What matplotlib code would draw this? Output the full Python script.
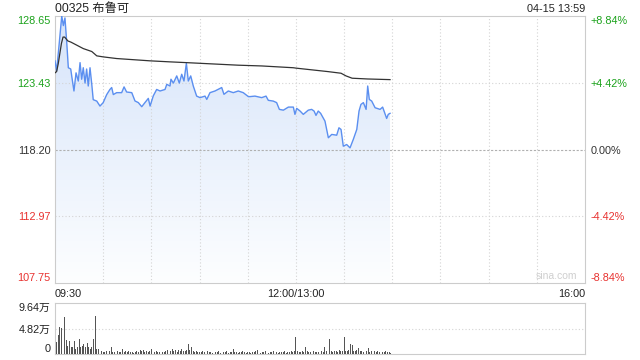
import numpy as np
import matplotlib
matplotlib.use('Agg')
import matplotlib.pyplot as plt
from matplotlib.colors import LinearSegmentedColormap

plt.rcParams['font.family'] = ['Liberation Sans', 'Noto Sans CJK SC', 'DejaVu Sans']

####################
# data
title = '00325 布鲁可'
stamp = '04-15 13:59'
prev_close = 118.20
price_ticks = [107.75, 112.97, 118.20, 123.43, 128.65]
pct_labels = ['-8.84%', '-4.42%', '0.00%', '+4.42%', '+8.84%']
tick_colors = ['#e8312f', '#e8312f', '#333333', '#1ba21b', '#1ba21b']
time_ticks = [0, 150, 330]
time_labels = ['09:30', '12:00/13:00', '16:00']
vol_ticks = [0, 4.82, 9.64]
vol_labels = ['0', '4.82万', '9.64万']

# minutes since 09:30 (lunch break removed) and price
price_min = [0, 1, 2.7, 4.2, 5.2, 6.2, 7.3, 8.3, 9.8, 10.4, 11.8, 13.1, 14.5, 15.6, 16.6,
             17.6, 18.7, 19.7, 20.7, 21.8, 22.9, 23.8, 26, 28, 30, 32.2, 34.2, 35.3, 36.3,
             38.4, 41.5, 43, 44.6, 47.8, 49.8, 51.9, 54, 56, 58.1, 59.2, 61.2, 63.3, 65.4,
             68.5, 69.6, 71.6, 72.2, 73.7, 75.8, 77.4, 78.9, 80.3, 81.8, 83, 84.5, 86.1,
             88.2, 90.3, 93.4, 94.5, 96.5, 99.6, 103.8, 105.2, 107.9, 111, 114.1, 117.2,
             120.4, 121.4, 124.5, 128.7, 131.4, 132.8, 135.9, 138, 139.7, 142.2, 145.3,
             148.4, 149.4, 150.5, 152.6, 154.6, 157.7, 159.8, 161.3, 162.5, 163.9, 165.4,
             168.1, 170.2, 172.3, 175.4, 176.8, 178.1, 179.5, 181.6, 183.7, 185.7, 187.9,
             189.3, 190.5, 192, 193.7, 194.7, 195.7, 197.2, 199.3, 202.4, 204, 206.5,
             207.5, 208.6]
price_val = [125.14, 124.35, 126.6, 128.65, 127.9, 128.5, 126.6, 124.6, 124.5, 123.96,
             122.78, 124.2, 123.56, 125.0, 123.7, 124.6, 123.4, 124.5, 123.17, 124.6,
             123.3, 122.1, 121.99, 121.6, 121.87, 122.5, 122.9, 123.05, 122.5, 122.65,
             122.65, 123.1, 122.7, 122.65, 122.0, 121.87, 121.55, 121.87, 122.2, 121.6,
             122.4, 122.9, 122.78, 122.9, 123.3, 123.17, 123.7, 123.4, 123.96, 123.4,
             124.09, 123.56, 124.95, 123.56, 123.96, 123.17, 122.38, 122.26, 122.38,
             122.12, 122.65, 122.78, 123.05, 122.52, 122.78, 122.65, 122.78, 122.65,
             122.34, 122.34, 122.38, 122.26, 122.38, 122.05, 121.99, 121.87, 121.34,
             121.28, 121.52, 121.52, 120.95, 121.42, 121.21, 120.95, 121.28, 121.34,
             121.21, 120.87, 121.21, 121.03, 120.42, 119.12, 119.38, 119.32, 119.9,
             119.77, 118.46, 118.59, 118.33, 118.98, 119.77, 121.21, 121.73, 121.87,
             121.34, 123.17, 122.12, 121.99, 121.47, 121.34, 121.52, 120.63, 120.95,
             121.03]

# average price line
avg_min = [0, 1, 2, 3, 4, 5, 6, 8, 10, 13.5, 17.6, 22.9, 24, 26, 30, 38.4, 59.2, 71.6,
           81.8, 114, 128.7, 148.4, 150, 169.8, 178.1, 181.2, 185, 194.7, 208.6]
avg_val = [124.2, 124.3, 124.9, 125.7, 126.5, 127.0, 127.0, 126.7, 126.6, 126.37, 126.1,
           125.87, 125.75, 125.53, 125.45, 125.32, 125.14, 125.06, 125.0, 124.8, 124.74,
           124.6, 124.57, 124.3, 124.17, 123.96, 123.78, 123.72, 123.67]

# volume per minute (万)
vol = [4.9, 2.2, 3.5, 5.1, 5.0, 9.64, 7.0, 2.7, 1.6, 2.5,
       1.3, 1.4, 2.5, 0.9, 1.3, 2.8, 1.3, 1.6, 1.9, 1.3,
       2.0, 1.3, 0.9, 1.4, 2.8, 7.1, 1.0, 0.9, 0.4, 0.5,
       0.3, 0.4, 0.6, 0.3, 0.5, 1.4, 0.4, 0.3, 0.2, 0.5,
       0.4, 0.3, 0.95, 0.4, 0.6, 0.3, 0.5, 0.4, 0.3, 0.2,
       0.4, 0.6, 0.3, 0.7, 0.5, 0.8, 0.4, 0.6, 0.3, 0.5,
       0.95, 0.4, 0.3, 0.5, 0.4, 0.3, 0.6, 0.4, 0.3, 0.5,
       0.7, 0.4, 0.6, 0.9, 0.5, 0.8, 0.4, 0.7, 0.5, 0.9,
       0.6, 0.5, 0.8, 1.9, 0.7, 1.27, 0.5, 0.4, 0.6, 0.3,
       0.4, 0.3, 0.5, 0.4, 1.4, 0.5, 0.3, 0.4, 0.2, 0.3,
       0.4, 0.3, 0.5, 0.2, 0.4, 0.3, 0.3, 0.5, 0.2, 0.4,
       0.3, 0.95, 0.4, 0.3, 0.2, 0.4, 0.3, 0.5, 0.3, 0.2,
       0.4, 0.3, 0.2, 0.4, 0.3, 0.5, 0.76, 0.3, 0.2, 0.4,
       0.3, 0.5, 0.3, 0.2, 0.4, 0.3, 0.5, 0.3, 0.4, 0.2,
       0.3, 0.4, 0.3, 0.5, 0.2, 0.4, 0.3, 0.5, 0.4, 0.6,
       3.17, 0.5, 0.4, 0.3, 0.6, 0.4, 1.4, 0.5, 0.3, 0.4,
       0.3, 0.5, 0.4, 0.3, 0.4, 0.3, 0.5, 0.4, 1.4, 0.5,
       0.6, 2.85, 0.5, 0.4, 0.6, 0.5, 0.4, 0.7, 0.5, 0.6,
       3.3, 0.6, 0.5, 0.8, 1.9, 1.7, 0.6, 0.5, 0.7, 1.14,
       0.5, 0.6, 0.4, 0.7, 0.5, 1.14, 0.4, 0.6, 0.3, 0.5,
       0.4, 0.6, 0.3, 0.5, 0.4, 0.3, 0.5, 0.3, 0.4, 0.2]
####################

grid_c = '#d4d4d4'
fs = 7.8

fig = plt.figure(figsize=(6.4, 3.6), dpi=100)
ax = fig.add_axes([55/640, 1-283/360, 530/640, 267/360])

# gradient area under the price line
cmap = LinearSegmentedColormap.from_list('fill', ['#fdfeff', '#d6e4fa'])
grad = np.linspace(0, 1, 256).reshape(-1, 1)
im = ax.imshow(grad, cmap=cmap, origin='lower', aspect='auto',
               extent=[0, 330, price_ticks[0], price_ticks[-1]], zorder=1)
area = ax.fill_between(price_min, price_val, price_ticks[0], color='none', lw=0)
im.set_clip_path(area.get_paths()[0], transform=ax.transData)

for m in range(30, 330, 30):
    ax.axvline(m, color=grid_c, lw=0.8, ls=(0, (1, 2)), zorder=2)
for p in [price_ticks[1], price_ticks[3]]:
    ax.axhline(p, color=grid_c, lw=0.8, ls=(0, (1, 2)), zorder=2)
ax.axhline(prev_close, color='#b0b0b0', lw=0.8, ls=(0, (2, 1.5)), zorder=2)

ax.plot(price_min, price_val, color='#5b8ff0', lw=1.0, zorder=4)
ax.plot(avg_min, avg_val, color='#333333', lw=0.9, zorder=4)

ax.set_xlim(0, 330)
ax.set_ylim(price_ticks[0], price_ticks[-1])
for s in ax.spines.values():
    s.set_color('#cccccc')

ax.set_yticks(price_ticks)
ax.set_yticklabels(['%.2f' % p for p in price_ticks])
ax.tick_params(axis='y', length=0, pad=3, labelsize=fs)
ylab = ax.get_yticklabels()
for lbl, c in zip(ylab, tick_colors):
    lbl.set_color(c)
ylab[0].set_va('bottom')
ylab[-1].set_va('top')

ax.set_xticks(time_ticks)
ax.set_xticklabels(time_labels)
ax.tick_params(axis='x', length=0, pad=4, labelsize=fs, labelcolor='#222222')
xlab = ax.get_xticklabels()
xlab[0].set_ha('left')
xlab[-1].set_ha('right')

ax2 = ax.twinx()
ax2.set_ylim(price_ticks[0], price_ticks[-1])
ax2.set_yticks(price_ticks)
ax2.set_yticklabels(pct_labels)
ax2.tick_params(axis='y', length=0, pad=4, labelsize=fs)
rlab = ax2.get_yticklabels()
for lbl, c in zip(rlab, tick_colors):
    lbl.set_color(c)
rlab[0].set_va('bottom')
rlab[-1].set_va('top')
for s in ax2.spines.values():
    s.set_visible(False)

ax.text(0.985, 0.008, 'sina.com', transform=ax.transAxes, ha='right', va='bottom',
        color='#cfcfcf', fontsize=7.5)

fig.text(55/640, 1-9/360, title, ha='left', va='center', fontsize=8.8, color='#222222')
fig.text(585/640, 1-9/360, stamp, ha='right', va='center', fontsize=7.8, color='#222222')

# volume panel
axv = fig.add_axes([55/640, 6/360, 530/640, 51/360])
axv.bar(np.arange(len(vol)), vol, width=0.55, color='#555555', zorder=3)
axv.axhline(vol_ticks[1], color=grid_c, lw=0.8, ls=(0, (1, 2)), zorder=1)
axv.set_xlim(0, 330)
axv.set_ylim(0, vol_ticks[-1])
axv.set_xticks([])
axv.set_yticks(vol_ticks)
axv.set_yticklabels(vol_labels)
axv.tick_params(axis='y', length=0, pad=3, labelsize=fs, labelcolor='#222222')
vlab = axv.get_yticklabels()
vlab[0].set_va('bottom')
vlab[-1].set_va('top')
for s in axv.spines.values():
    s.set_color('#cccccc')

plt.savefig('out.png', dpi=100)
